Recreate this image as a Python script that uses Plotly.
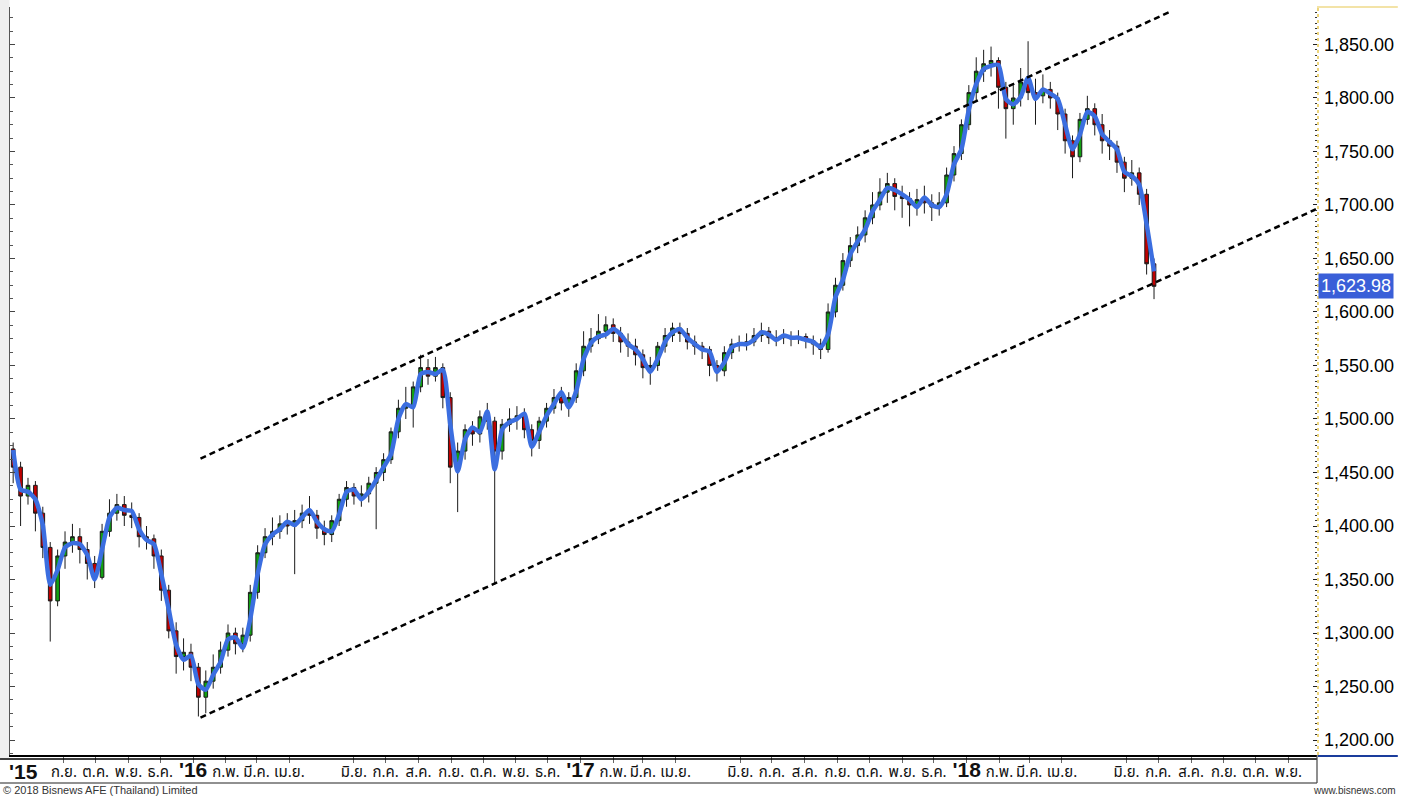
import plotly.graph_objects as go
import pandas as pd

# ---------------- data (weekly) ----------------
first_week = "2015-07-15"

ma_line = [1471,1434,1432,1425,1401,1345,1359,1380,1384,1383,
           1373,1350,1378,1408,1417,1415,1414,1397,1387,1383,
           1355,1322,1289,1275,1279,1252,1247,1261,1273,1294,
           1296,1286,1313,1355,1383,1392,1397,1404,1401,1408,
           1415,1404,1397,1395,1411,1432,1434,1425,1432,1443,
           1455,1467,1500,1514,1511,1542,1544,1542,1546,1495,
           1451,1481,1492,1488,1507,1453,1490,1497,1500,1505,
           1474,1488,1503,1514,1525,1511,1526,1556,1571,1577,
           1579,1584,1579,1570,1565,1556,1544,1556,1572,1581,
           1584,1576,1570,1565,1563,1544,1553,1567,1570,1570,
           1574,1581,1579,1574,1578,1576,1576,1574,1572,1567,
           1579,1614,1630,1654,1666,1677,1694,1705,1716,1714,
           1710,1705,1698,1707,1700,1698,1710,1738,1752,1789,
           1813,1827,1830,1831,1799,1794,1801,1819,1799,1808,
           1804,1799,1775,1752,1766,1787,1783,1766,1759,1752,
           1731,1727,1719,1682,1638]

opens = [1472,1455,1428,1438,1412,1380,1330,1372,1385,1390,
         1378,1365,1352,1395,1412,1420,1410,1408,1390,1388,
         1372,1340,1302,1278,1282,1268,1240,1255,1268,1284,
         1300,1290,1298,1338,1375,1390,1395,1402,1400,1405,
         1412,1410,1398,1392,1405,1425,1436,1428,1430,1440,
         1450,1462,1488,1510,1512,1530,1548,1540,1548,1520,
         1455,1470,1490,1486,1502,1498,1470,1495,1500,1503,
         1490,1480,1498,1510,1520,1515,1520,1545,1568,1575,
         1582,1588,1580,1572,1568,1560,1548,1550,1568,1578,
         1585,1580,1572,1568,1565,1550,1545,1562,1570,1571,
         1572,1578,1582,1576,1576,1577,1575,1577,1573,1570,
         1565,1600,1625,1648,1662,1672,1688,1700,1712,1720,
         1708,1706,1700,1705,1702,1698,1702,1728,1748,1775,
         1805,1825,1832,1835,1810,1790,1800,1815,1805,1802,
         1808,1800,1785,1760,1745,1780,1790,1775,1760,1755,
         1740,1725,1730,1710,1645]

highs = [1478,1460,1445,1442,1418,1385,1378,1395,1402,1398,
         1385,1372,1402,1425,1430,1428,1422,1412,1400,1392,
         1378,1345,1310,1295,1290,1272,1265,1280,1292,1308,
         1305,1305,1345,1382,1398,1408,1410,1412,1415,1420,
         1428,1415,1405,1410,1430,1442,1440,1438,1446,1455,
         1468,1492,1518,1530,1535,1560,1556,1558,1552,1525,
         1478,1495,1498,1508,1515,1502,1500,1510,1512,1510,
         1495,1502,1515,1528,1530,1525,1552,1582,1585,1598,
         1596,1594,1586,1580,1575,1565,1558,1572,1585,1590,
         1590,1585,1578,1572,1568,1555,1568,1575,1578,1580,
         1585,1590,1586,1583,1584,1582,1583,1580,1578,1575,
         1608,1632,1655,1670,1680,1695,1712,1725,1730,1725,
         1718,1712,1715,1718,1710,1712,1735,1755,1780,1812,
         1838,1845,1848,1838,1815,1812,1828,1853,1818,1822,
         1815,1805,1790,1765,1786,1802,1795,1785,1770,1760,
         1745,1742,1735,1715,1650]

lows = [1440,1400,1420,1395,1370,1292,1325,1360,1375,1365,
        1350,1342,1350,1390,1405,1400,1398,1380,1378,1360,
        1330,1295,1262,1265,1255,1222,1225,1248,1262,1278,
        1280,1282,1292,1332,1370,1382,1388,1392,1355,1398,
        1402,1388,1382,1385,1400,1418,1420,1418,1422,1397,
        1442,1458,1482,1500,1492,1525,1532,1535,1510,1440,
        1413,1462,1475,1478,1490,1345,1462,1488,1490,1482,
        1465,1472,1492,1505,1508,1502,1515,1540,1562,1570,
        1575,1572,1562,1558,1550,1538,1532,1545,1562,1572,
        1572,1565,1560,1556,1540,1535,1540,1556,1563,1564,
        1568,1572,1570,1568,1570,1568,1570,1566,1560,1556,
        1562,1595,1620,1642,1655,1665,1682,1695,1702,1695,
        1688,1680,1690,1692,1685,1690,1698,1722,1742,1770,
        1798,1815,1820,1790,1762,1775,1792,1798,1775,1795,
        1790,1770,1748,1725,1740,1775,1765,1748,1742,1730,
        1712,1718,1700,1635,1612]

closes = [1455,1428,1438,1412,1380,1330,1372,1385,1390,1378,
          1365,1352,1395,1412,1420,1410,1408,1390,1388,1372,
          1340,1302,1278,1282,1268,1240,1255,1268,1284,1300,
          1290,1298,1338,1375,1390,1395,1402,1400,1405,1412,
          1410,1398,1392,1405,1425,1436,1428,1430,1440,1450,
          1462,1488,1510,1512,1530,1548,1540,1548,1520,1455,
          1470,1490,1486,1502,1498,1470,1495,1500,1503,1490,
          1480,1498,1510,1520,1515,1520,1545,1568,1575,1582,
          1588,1580,1572,1568,1560,1548,1550,1568,1578,1585,
          1580,1572,1568,1565,1550,1545,1562,1570,1571,1572,
          1578,1582,1576,1576,1577,1575,1577,1573,1570,1565,
          1600,1625,1648,1662,1672,1688,1700,1712,1720,1708,
          1706,1700,1705,1702,1698,1702,1728,1748,1775,1805,
          1825,1832,1835,1810,1790,1800,1815,1805,1802,1808,
          1800,1785,1760,1745,1780,1790,1775,1760,1755,1740,
          1725,1730,1710,1645,1623.98]

last_close = 1623.98

upper_trend_x = ["2016-01-08", "2018-07-13"]
upper_trend_y = [1463, 1881]
lower_trend_x = ["2016-01-08", "2018-11-27"]
lower_trend_y = [1221, 1696]

x_range = ["2015-07-12", "2018-11-28"]
y_range = [1186, 1885]

tick_dates = ["2015-09-01","2015-10-01","2015-11-01","2015-12-01",
              "2016-01-01","2016-02-01","2016-03-01","2016-04-01","2016-06-01","2016-07-01",
              "2016-08-01","2016-09-01","2016-10-01","2016-11-01","2016-12-01",
              "2017-01-01","2017-02-01","2017-03-01","2017-04-01","2017-06-01","2017-07-01",
              "2017-08-01","2017-09-01","2017-10-01","2017-11-01","2017-12-01",
              "2018-01-01","2018-02-01","2018-03-01","2018-04-01","2018-06-01","2018-07-01",
              "2018-08-01","2018-09-01","2018-10-01","2018-11-01"]
tick_labels = ["ก.ย.","ต.ค.","พ.ย.","ธ.ค.",
               "'16","ก.พ.","มี.ค.","เม.ย.","มิ.ย.","ก.ค.",
               "ส.ค.","ก.ย.","ต.ค.","พ.ย.","ธ.ค.",
               "'17","ก.พ.","มี.ค.","เม.ย.","มิ.ย.","ก.ค.",
               "ส.ค.","ก.ย.","ต.ค.","พ.ย.","ธ.ค.",
               "'18","ก.พ.","มี.ค.","เม.ย.","มิ.ย.","ก.ค.",
               "ส.ค.","ก.ย.","ต.ค.","พ.ย."]
first_year_label = "'15"

# ---------------- figure ----------------
dates = pd.date_range(first_week, periods=len(closes), freq="7D")

W, H = 1401, 796
ML, MR, MT, MB = 10, 81, 7, 41
PW, PH = W - ML - MR, H - MT - MB

def px(xp):   # pixel x -> paper
    return (xp - ML) / PW

def py(yp):   # pixel y -> paper
    return (H - MB - yp) / PH

fig = go.Figure()

fig.add_trace(go.Candlestick(
    x=dates, open=opens, high=highs, low=lows, close=closes,
    increasing=dict(fillcolor="#12a012", line=dict(color="#1a1a1a", width=1)),
    decreasing=dict(fillcolor="#c00000", line=dict(color="#1a1a1a", width=1)),
    whiskerwidth=0, showlegend=False, hoverinfo="skip"))

fig.add_trace(go.Scatter(
    x=dates, y=ma_line, mode="lines",
    line=dict(color="#3b6ee0", width=4.5, shape="spline", smoothing=0.6),
    showlegend=False, hoverinfo="skip"))

for tx, ty in [(upper_trend_x, upper_trend_y), (lower_trend_x, lower_trend_y)]:
    fig.add_trace(go.Scatter(
        x=tx, y=ty, mode="lines",
        line=dict(color="black", width=2.5, dash="6px,4px"),
        showlegend=False, hoverinfo="skip"))

# invisible trace for the left mirror axis
fig.add_trace(go.Scatter(x=[dates[0]], y=[y_range[0]], yaxis="y2", mode="markers",
                         marker=dict(opacity=0), showlegend=False, hoverinfo="skip"))

YEAR_STYLE = "font-family:Liberation Sans, Arial, sans-serif;font-size:21px;font-weight:bold"

def fmt(t):
    if t.startswith("'"):
        return "<span style='" + YEAR_STYLE + "'>" + t + "</span>"
    return t

thai_font = "Tahoma, 'Noto Sans Thai', 'Noto Sans Thai UI', 'DejaVu Sans', sans-serif"

fig.update_layout(
    width=W, height=H,
    margin=dict(l=ML, r=MR, t=MT, b=MB),
    paper_bgcolor="white", plot_bgcolor="white",
    font=dict(family="Liberation Sans, Arial, sans-serif", color="black"),
    xaxis=dict(type="date", range=x_range, rangeslider=dict(visible=False),
               showgrid=False, zeroline=False,
               showline=True, linecolor="black", linewidth=1.5,
               ticks="outside", ticklen=6, tickcolor="#666", tickwidth=1,
               ticklabelstandoff=-4,
               tickvals=tick_dates, ticktext=[fmt(t) for t in tick_labels],
               tickfont=dict(family=thai_font, size=15, color="#111"),
               tickangle=0),
    yaxis=dict(side="right", range=y_range, showgrid=False, zeroline=False,
               tickvals=list(range(1200, 1851, 50)), tickformat=",.2f",
               ticks="inside", ticklen=4, tickcolor="#222", tickwidth=1,
               minor=dict(dtick=5, ticks="inside", ticklen=2, tickcolor="#333", tickwidth=1),
               showline=False, ticklabelstandoff=6,
               tickfont=dict(family="Liberation Sans, Arial, sans-serif", size=18, color="black")),
    yaxis2=dict(overlaying="y", side="left", range=y_range, showgrid=False, zeroline=False,
                dtick=50, tick0=1200, ticks="inside", ticklen=5, tickcolor="#444",
                minor=dict(dtick=12.5, ticks="inside", ticklen=3, tickcolor="#555"),
                showline=True, linecolor="#555", linewidth=1, showticklabels=False),
)

shapes = [
    dict(type="rect", xref="paper", yref="paper", x0=px(0), x1=px(9.5), y0=py(758), y1=py(0),
         fillcolor="#efefef", line=dict(width=0), layer="below"),
    dict(type="line", xref="paper", yref="paper", x0=px(0), x1=1, y0=py(759), y1=py(759),
         line=dict(color="black", width=1.5)),
    dict(type="line", xref="paper", yref="paper", x0=px(0), x1=1, y0=py(783), y1=py(783),
         line=dict(color="#222", width=1.2)),
    dict(type="line", xref="paper", yref="paper", x0=1, x1=1, y0=py(783), y1=py(755),
         line=dict(color="#444", width=1.2)),
    dict(type="line", xref="paper", yref="paper", x0=px(1321), x1=px(1321), y0=py(755), y1=py(7),
         line=dict(color="#e8c850", width=1.5, dash="dot")),
    dict(type="line", xref="paper", yref="paper", x0=px(1320), x1=px(1401), y0=py(7), y1=py(7),
         line=dict(color="#e8c850", width=1.2)),
    dict(type="line", xref="paper", yref="paper", x0=px(1321), x1=px(1401), y0=py(756), y1=py(756),
         line=dict(color="#1a3c9c", width=2)),
]
fig.update_layout(shapes=shapes)

annotations = [
    dict(text="<b>" + first_year_label + "</b>", xref="paper", yref="paper",
         x=px(7), y=py(771), xanchor="left", yanchor="middle", showarrow=False,
         font=dict(family="Liberation Sans, Arial, sans-serif", size=21, color="#111")),
    dict(text=f"{last_close:,.2f}", xref="paper", yref="y", x=1, xshift=1, y=last_close,
         xanchor="left", yanchor="middle", showarrow=False, bgcolor="#3a5fd8",
         borderpad=2, font=dict(family="Liberation Sans, Arial, sans-serif", size=18, color="white")),
    dict(text="© 2018 Bisnews AFE (Thailand) Limited", xref="paper", yref="paper",
         x=px(2), y=py(797), xanchor="left", yanchor="bottom", showarrow=False, borderpad=0,
         font=dict(family="Liberation Sans, Arial, sans-serif", size=11, color="#333")),
    dict(text="www.bisnews.com", xref="paper", yref="paper",
         x=px(1400), y=py(797), xanchor="right", yanchor="bottom", showarrow=False, borderpad=0,
         font=dict(family="Liberation Sans, Arial, sans-serif", size=10, color="#333")),
]
fig.update_layout(annotations=annotations)

fig.write_html("out.html", config={"displayModeBar": False},
               post_script="document.body.style.margin='0';document.body.style.overflow='hidden';")
